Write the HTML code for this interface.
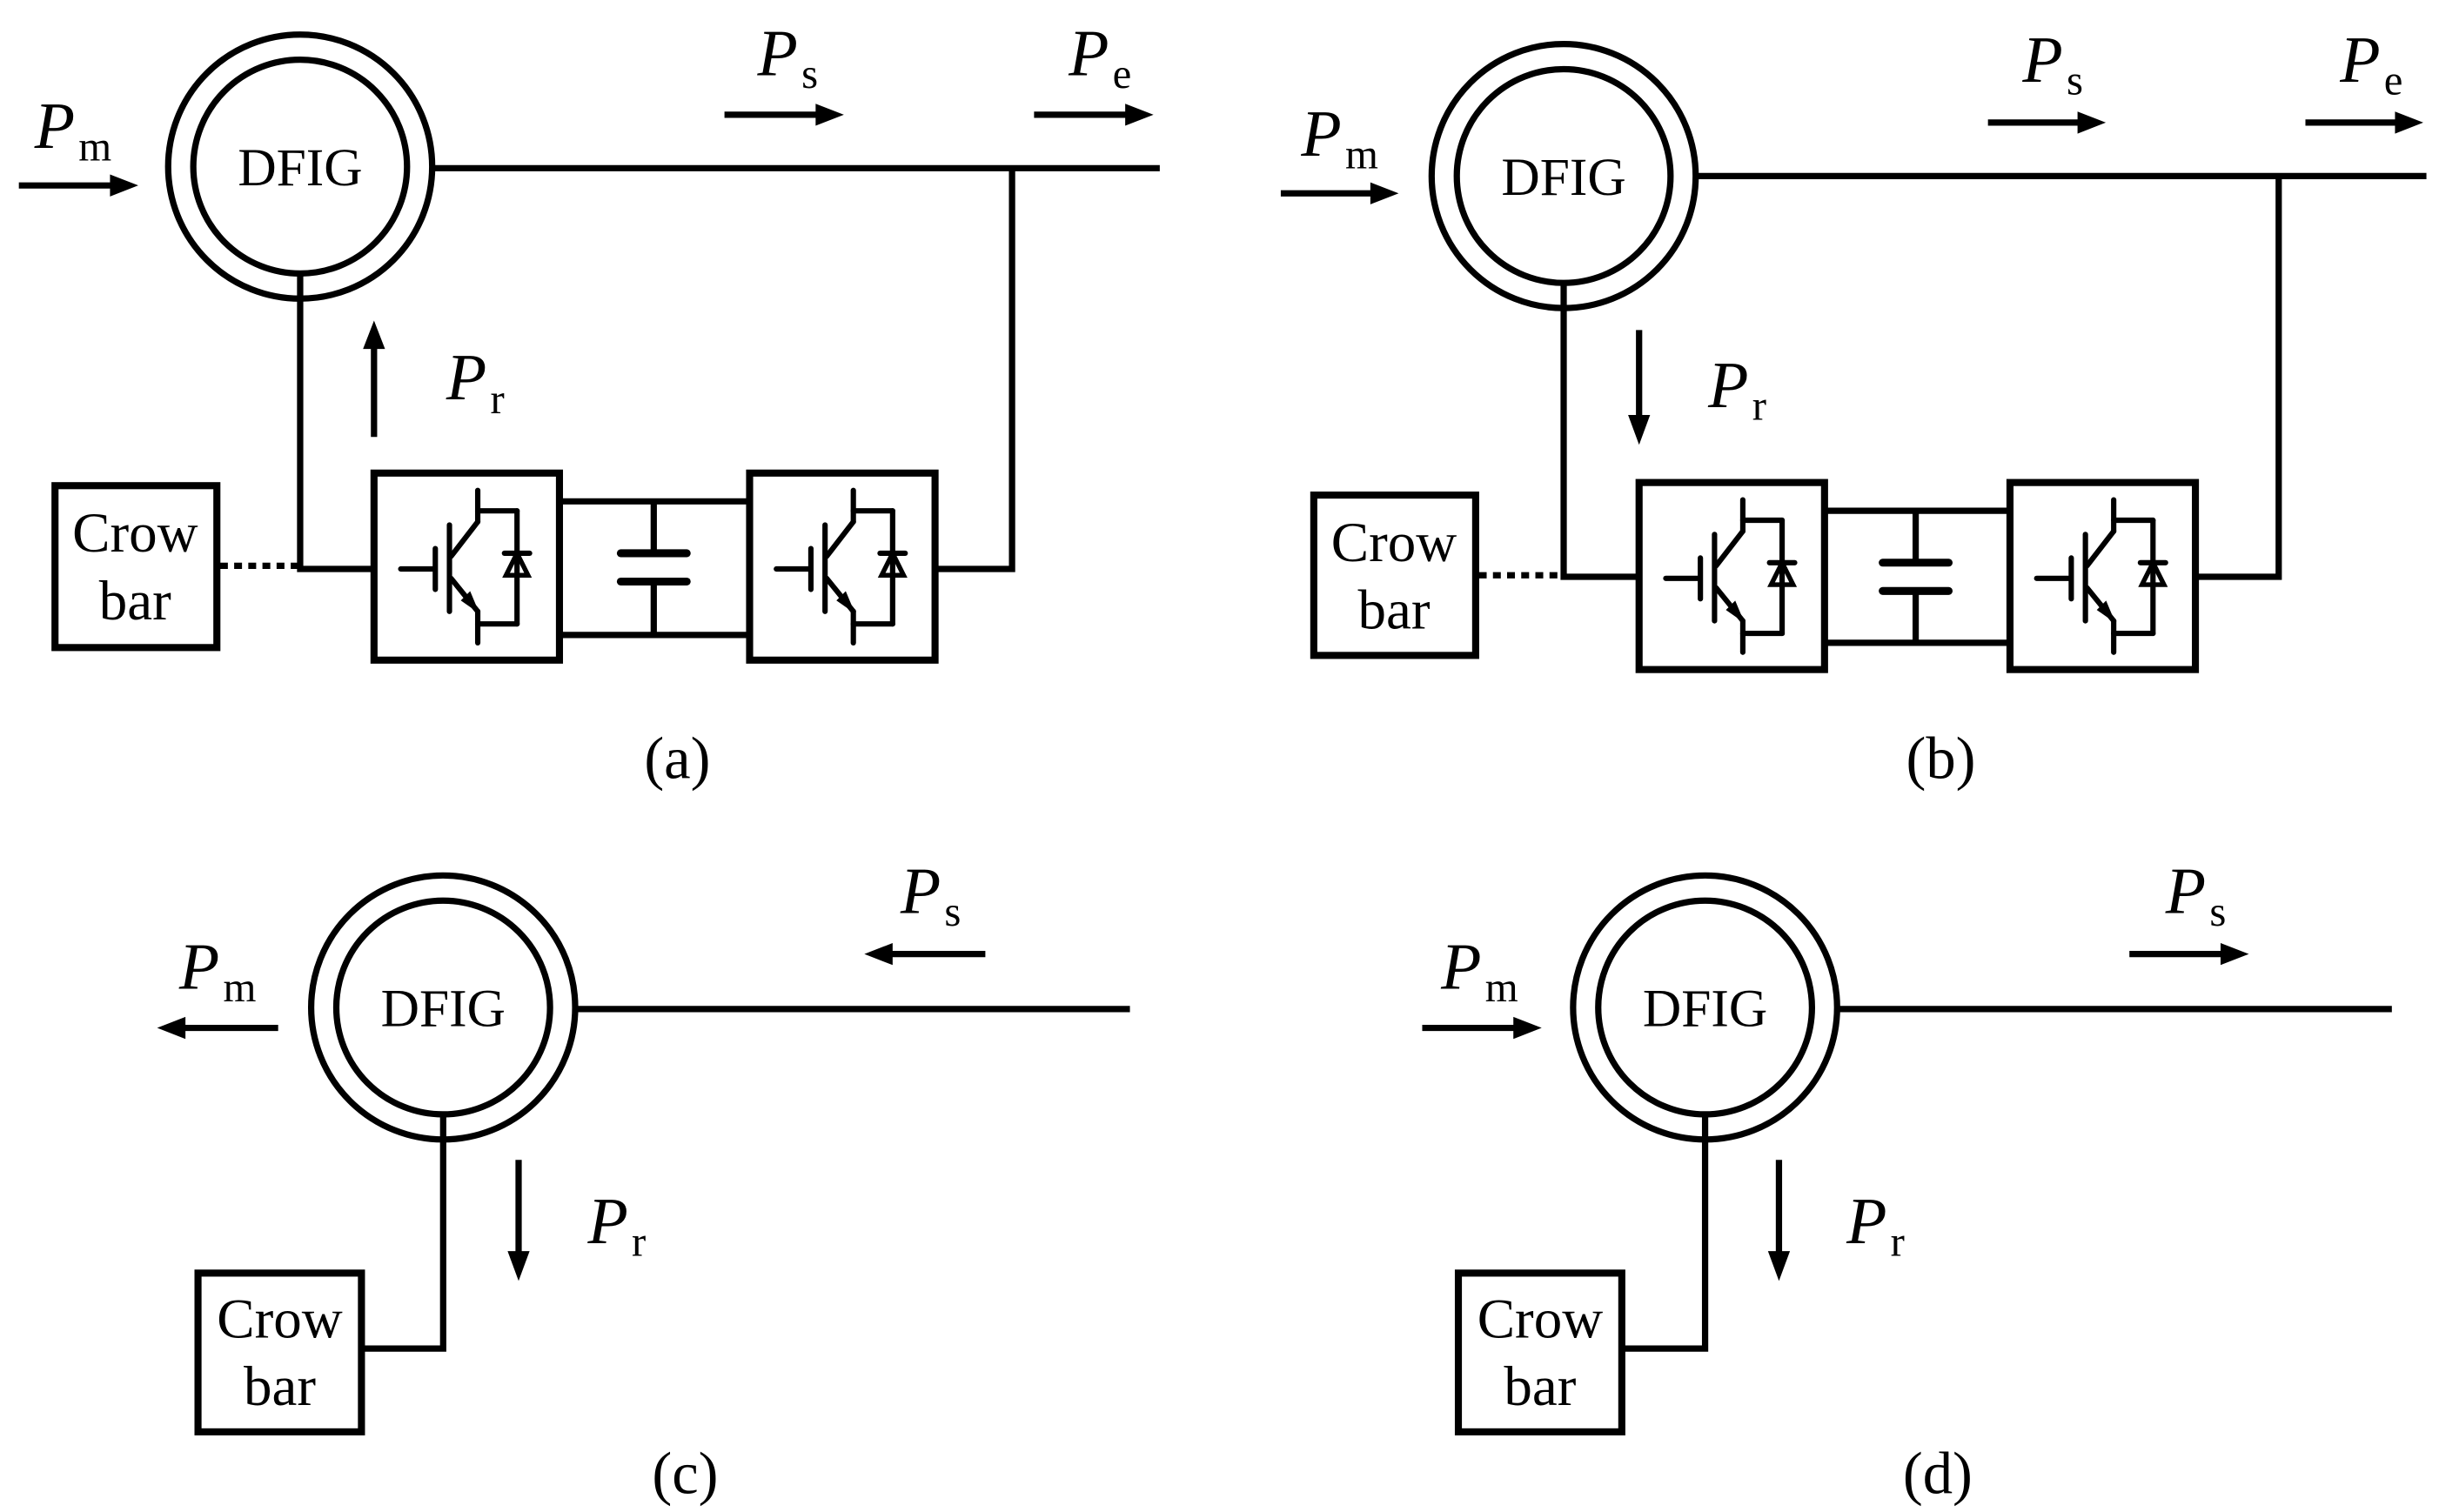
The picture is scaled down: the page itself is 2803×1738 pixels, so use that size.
<!DOCTYPE html>
<html><head><meta charset="utf-8"><style>
html,body{margin:0;padding:0;background:#fff;}
svg{display:block;}
text{font-family:"Liberation Serif",serif;fill:#000;}
.it{font-style:italic;}
</style></head><body>
<svg width="2803" height="1738" viewBox="0 0 1552 962" preserveAspectRatio="none" xmlns="http://www.w3.org/2000/svg">
<defs>
<g id="conv" fill="none" stroke="#000" stroke-width="3.4" stroke-linecap="round">
  <rect x="0" y="0" width="118" height="119" stroke-width="4.5"/>
  <line x1="17" y1="61" x2="38" y2="61"/>
  <line x1="39" y1="48" x2="39" y2="74"/>
  <line x1="48" y1="33" x2="48" y2="88"/>
  <line x1="49" y1="53" x2="66" y2="31"/>
  <line x1="66" y1="31" x2="66" y2="11"/>
  <line x1="66" y1="24" x2="91" y2="24"/>
  <line x1="91" y1="24" x2="91" y2="96"/>
  <line x1="49" y1="67" x2="66" y2="88"/>
  <line x1="66" y1="88" x2="66" y2="108"/>
  <line x1="66" y1="96" x2="91" y2="96"/>
  <line x1="83" y1="51" x2="99" y2="51"/>
  <polygon points="91,51 84,65 98,65" stroke-width="3"/>
  <polygon points="66,88 56,81 61,76" fill="#000" stroke-width="1"/>
</g>
<g id="gen" fill="none" stroke="#000" stroke-width="4">
  <circle cx="0" cy="0" r="84"/>
  <circle cx="0" cy="0" r="68"/>
</g>
</defs>

<!-- ===== (a) ===== -->
<use href="#gen" x="191" y="106"/>
<text x="191" y="118" font-size="34" text-anchor="middle">DFIG</text>
<g stroke="#000" stroke-width="4" fill="none">
  <line x1="275" y1="107" x2="738" y2="107"/>
  <polyline points="644,107 644,362 596,362"/>
  <polyline points="191,174 191,362 238,362"/>
  <line x1="356" y1="319" x2="477" y2="319"/>
  <line x1="356" y1="404" x2="477" y2="404"/>
  <line x1="416" y1="319" x2="416" y2="351"/>
  <line x1="416" y1="371" x2="416" y2="404"/>
  <line x1="395" y1="352" x2="437" y2="352" stroke-width="5" stroke-linecap="round"/>
  <line x1="395" y1="370" x2="437" y2="370" stroke-width="5" stroke-linecap="round"/>
  <line x1="140" y1="360" x2="190" y2="360" stroke-dasharray="5,4"/>
  <rect x="35" y="309" width="103" height="103" stroke-width="4.5"/>
  <line x1="12" y1="118" x2="72" y2="118"/>
  <line x1="461" y1="73" x2="521" y2="73"/>
  <line x1="658" y1="73" x2="718" y2="73"/>
  <line x1="238" y1="278" x2="238" y2="220"/>
</g>
<g fill="#000">
  <polygon points="88,118 70,111 70,125"/>
  <polygon points="537,73 519,66 519,80"/>
  <polygon points="734,73 716,66 716,80"/>
  <polygon points="238,204 231,222 245,222"/>
</g>
<use href="#conv" x="238" y="301"/>
<use href="#conv" x="477" y="301"/>
<text x="86" y="351" font-size="36" text-anchor="middle">Crow</text>
<text x="86" y="394" font-size="36" text-anchor="middle">bar</text>
<text x="22" y="94" font-size="42" class="it">P</text><text x="50" y="102" font-size="27">m</text>
<text x="482" y="48" font-size="42" class="it">P</text><text x="510" y="56" font-size="27">s</text>
<text x="680" y="48" font-size="42" class="it">P</text><text x="708" y="56" font-size="27">e</text>
<text x="284" y="254" font-size="42" class="it">P</text><text x="312" y="263" font-size="27">r</text>
<text x="431" y="495" font-size="38" text-anchor="middle">(a)</text>

<!-- ===== (b) ===== -->
<use href="#gen" x="995" y="112"/>
<text x="995" y="124" font-size="34" text-anchor="middle">DFIG</text>
<g stroke="#000" stroke-width="4" fill="none">
  <line x1="1079" y1="112" x2="1544" y2="112"/>
  <polyline points="1450,112 1450,367 1397,367"/>
  <polyline points="995,180 995,367 1043,367"/>
  <line x1="1161" y1="325" x2="1279" y2="325"/>
  <line x1="1161" y1="409" x2="1279" y2="409"/>
  <line x1="1219" y1="325" x2="1219" y2="357"/>
  <line x1="1219" y1="377" x2="1219" y2="409"/>
  <line x1="1198" y1="358" x2="1240" y2="358" stroke-width="5" stroke-linecap="round"/>
  <line x1="1198" y1="376" x2="1240" y2="376" stroke-width="5" stroke-linecap="round"/>
  <line x1="941" y1="366" x2="994" y2="366" stroke-dasharray="5,4"/>
  <rect x="836" y="315" width="103" height="102" stroke-width="4.5"/>
  <line x1="815" y1="123" x2="874" y2="123"/>
  <line x1="1265" y1="78" x2="1324" y2="78"/>
  <line x1="1467" y1="78" x2="1526" y2="78"/>
  <line x1="1043" y1="210" x2="1043" y2="266"/>
</g>
<g fill="#000">
  <polygon points="890,123 872,116 872,130"/>
  <polygon points="1340,78 1322,71 1322,85"/>
  <polygon points="1542,78 1524,71 1524,85"/>
  <polygon points="1043,283 1036,264 1050,264"/>
</g>
<use href="#conv" x="1043" y="307"/>
<use href="#conv" x="1279" y="307"/>
<text x="887" y="357" font-size="36" text-anchor="middle">Crow</text>
<text x="887" y="400" font-size="36" text-anchor="middle">bar</text>
<text x="828" y="99" font-size="42" class="it">P</text><text x="856" y="107" font-size="27">m</text>
<text x="1287" y="52" font-size="42" class="it">P</text><text x="1315" y="60" font-size="27">s</text>
<text x="1489" y="52" font-size="42" class="it">P</text><text x="1517" y="60" font-size="27">e</text>
<text x="1087" y="259" font-size="42" class="it">P</text><text x="1115" y="267" font-size="27">r</text>
<text x="1235" y="495" font-size="38" text-anchor="middle">(b)</text>

<!-- ===== (c) ===== -->
<use href="#gen" x="282" y="641"/>
<text x="282" y="653" font-size="34" text-anchor="middle">DFIG</text>
<g stroke="#000" stroke-width="4" fill="none">
  <line x1="366" y1="642" x2="719" y2="642"/>
  <polyline points="282,709 282,858 230,858"/>
  <rect x="126" y="810" width="104" height="101" stroke-width="4.5"/>
  <line x1="177" y1="654" x2="117" y2="654"/>
  <line x1="627" y1="607" x2="567" y2="607"/>
  <line x1="330" y1="738" x2="330" y2="798"/>
</g>
<g fill="#000">
  <polygon points="100,654 118,647 118,661"/>
  <polygon points="550,607 568,600 568,614"/>
  <polygon points="330,815 323,796 337,796"/>
</g>
<text x="178" y="851" font-size="36" text-anchor="middle">Crow</text>
<text x="178" y="894" font-size="36" text-anchor="middle">bar</text>
<text x="114" y="629" font-size="42" class="it">P</text><text x="142" y="637" font-size="27">m</text>
<text x="573" y="581" font-size="42" class="it">P</text><text x="601" y="589" font-size="27">s</text>
<text x="374" y="791" font-size="42" class="it">P</text><text x="402" y="799" font-size="27">r</text>
<text x="436" y="950" font-size="38" text-anchor="middle">(c)</text>

<!-- ===== (d) ===== -->
<use href="#gen" x="1085" y="641"/>
<text x="1085" y="653" font-size="34" text-anchor="middle">DFIG</text>
<g stroke="#000" stroke-width="4" fill="none">
  <line x1="1169" y1="642" x2="1522" y2="642"/>
  <polyline points="1085,709 1085,858 1032,858"/>
  <rect x="928" y="810" width="104" height="101" stroke-width="4.5"/>
  <line x1="905" y1="654" x2="964" y2="654"/>
  <line x1="1355" y1="607" x2="1414" y2="607"/>
  <line x1="1132" y1="738" x2="1132" y2="798"/>
</g>
<g fill="#000">
  <polygon points="981,654 963,647 963,661"/>
  <polygon points="1431,607 1413,600 1413,614"/>
  <polygon points="1132,815 1125,796 1139,796"/>
</g>
<text x="980" y="851" font-size="36" text-anchor="middle">Crow</text>
<text x="980" y="894" font-size="36" text-anchor="middle">bar</text>
<text x="917" y="629" font-size="42" class="it">P</text><text x="945" y="637" font-size="27">m</text>
<text x="1378" y="581" font-size="42" class="it">P</text><text x="1406" y="589" font-size="27">s</text>
<text x="1175" y="791" font-size="42" class="it">P</text><text x="1203" y="799" font-size="27">r</text>
<text x="1233" y="950" font-size="38" text-anchor="middle">(d)</text>
</svg>
</body></html>
